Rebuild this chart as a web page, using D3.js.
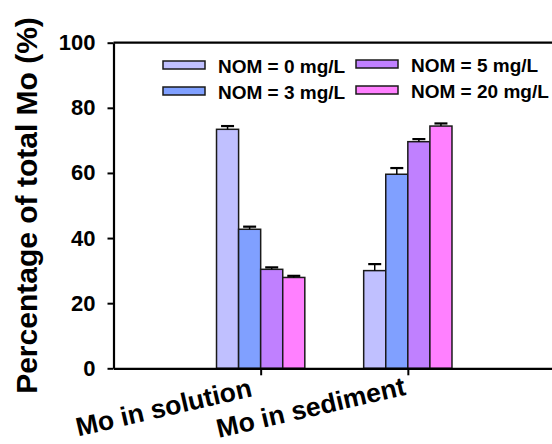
<!DOCTYPE html>
<html>
<head>
<meta charset="utf-8">
<script src="https://cdn.jsdelivr.net/npm/d3@7"></script>
<style>
  body { margin: 0; background: #fff; }
  svg { display: block; font-family: "Liberation Sans", Arial, sans-serif; font-weight: bold; }
</style>
</head>
<body>
<div id="chart"></div>
<script>
'use strict';
// data
const categories = ['Mo in solution', 'Mo in sediment'];
const seriesNames = ['NOM = 0 mg/L', 'NOM = 3 mg/L', 'NOM = 5 mg/L', 'NOM = 20 mg/L'];
const seriesColors = ['#c0c0ff', '#80a0ff', '#c080ff', '#ff80ff'];
const values = [
  [73.4, 30.0],   // NOM 0
  [42.7, 59.6],   // NOM 3
  [30.4, 69.6],   // NOM 5
  [27.9, 74.4]    // NOM 20
];
const errors = [
  [1.0, 2.0],
  [0.8, 1.9],
  [0.6, 0.8],
  [0.5, 0.8]
];
const yTicks = [0, 20, 40, 60, 80, 100];

const W = 552, H = 444;
const margin = {left: 113.5, right: 555, top: 42.7, bottom: 368.3};

const svg = d3.select('#chart').append('svg')
    .attr('width', W)
    .attr('height', H);

const x = d3.scaleLinear().domain([0, 3]).range([margin.left, margin.right]);
const y = d3.scaleLinear().domain([0, 100]).range([margin.bottom, margin.top]);
const barW = x(0.15) - x(0);

// bars
const rows = [];
seriesNames.forEach(function(name, j) {
  categories.forEach(function(cat, i) {
    rows.push({ s: j, c: i, v: values[j][i], e: errors[j][i] });
  });
});

svg.selectAll('.bar')
    .data(rows)
  .enter().append('rect')
    .attr('class', 'bar')
    .attr('x', function(d) { return x(d.c + 1) + (d.s - 2) * barW; })
    .attr('y', function(d) { return y(d.v); })
    .attr('width', barW)
    .attr('height', function(d) { return y(0) - y(d.v); })
    .attr('fill', function(d) { return seriesColors[d.s]; })
    .attr('stroke', '#1a1a1a')
    .attr('stroke-width', 1.5);

// error bars (upper half only shows)
const eb = svg.selectAll('.err')
    .data(rows)
  .enter().append('g')
    .attr('class', 'err')
    .attr('transform', function(d) { return 'translate(' + (x(d.c + 1) + (d.s - 1.5) * barW) + ',0)'; });
eb.append('line')
    .attr('y1', function(d) { return y(d.v); })
    .attr('y2', function(d) { return y(d.v + d.e); })
    .attr('stroke', '#000').attr('stroke-width', 1.5);
eb.append('line')
    .attr('x1', -6.5).attr('x2', 6.5)
    .attr('y1', function(d) { return y(d.v + d.e); })
    .attr('y2', function(d) { return y(d.v + d.e); })
    .attr('stroke', '#000').attr('stroke-width', 2.2);

// top frame
svg.append('line')
    .attr('x1', margin.left).attr('x2', margin.right)
    .attr('y1', y(100)).attr('y2', y(100))
    .attr('stroke', '#000').attr('stroke-width', 2.2);

// axes
const yAxis = svg.append('g')
    .attr('transform', 'translate(' + margin.left + ',0)')
    .call(d3.axisLeft(y).tickValues(yTicks).tickSize(6).tickSizeOuter(0).tickPadding(12));

const xAxis = svg.append('g')
    .attr('transform', 'translate(0,' + margin.bottom + ')')
    .call(d3.axisBottom(x).tickValues([1, 2]).tickSize(7).tickSizeOuter(0).tickFormat(''));

[yAxis, xAxis].forEach(function(a) {
  a.select('.domain').attr('stroke', '#000').attr('stroke-width', 2.2);
  a.selectAll('.tick line').attr('stroke', '#000').attr('stroke-width', 2);
  a.selectAll('text').attr('fill', '#000');
  a.attr('font-family', null);
});
yAxis.selectAll('text').attr('font-size', 22);

// slanted category labels
svg.selectAll('.cat-label')
    .data(categories)
  .enter().append('text')
    .attr('class', 'cat-label')
    .attr('text-anchor', 'middle')
    .attr('font-size', 26.5)
    .attr('transform', function(d, i) {
      return 'translate(' + (x(i + 1) - 95) + ',' + (margin.bottom + 48) + ') rotate(-13)';
    })
    .text(function(d) { return d; });

// y title
svg.append('text')
    .attr('transform', 'translate(37.3,205.5) rotate(-90)')
    .attr('text-anchor', 'middle')
    .attr('font-size', 30)
    .text('Percentage of total Mo (%)');

// legend: two columns, two rows
const legend = svg.selectAll('.legend')
    .data(seriesNames)
  .enter().append('g')
    .attr('class', 'legend')
    .attr('transform', function(d, i) {
      const col = i >= 2 ? 1 : 0, row = i % 2;
      const lx = col ? 356 : 163;
      const ly = (col ? 60 : 61) + row * 26;
      return 'translate(' + lx + ',' + ly + ')';
    });
legend.append('rect')
    .attr('width', 42).attr('height', 8)
    .attr('fill', function(d, i) { return seriesColors[i]; })
    .attr('stroke', '#1a1a1a').attr('stroke-width', 1.5);
legend.append('text')
    .attr('x', 55).attr('y', 11.5)
    .attr('font-size', 19)
    .text(function(d) { return d; });
</script>
</body>
</html>
